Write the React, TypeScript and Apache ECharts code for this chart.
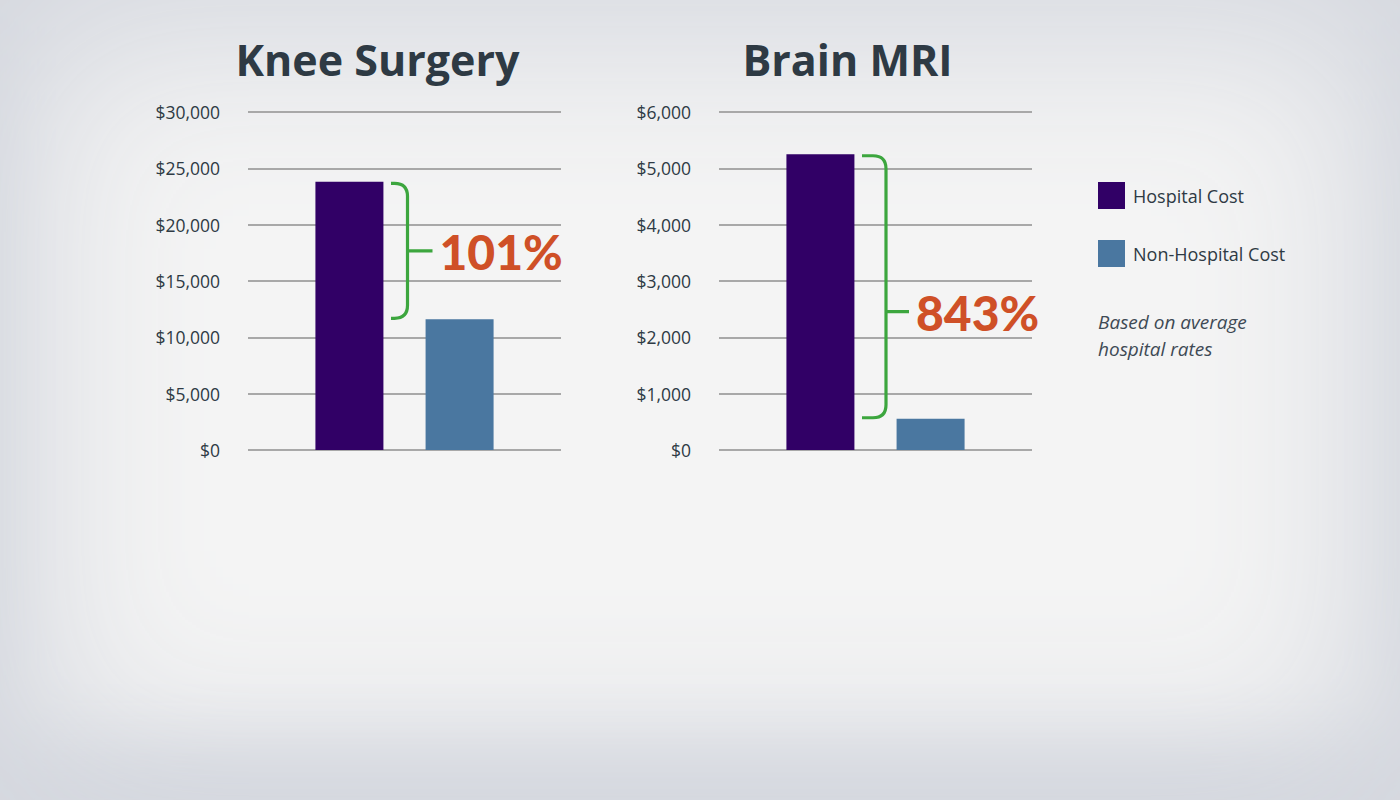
import React, { useEffect, useRef } from "react";
import * as echarts from "echarts";

const categories = ["Knee Surgery", "Brain MRI"];
const seriesNames = ["Hospital Cost", "Non-Hospital Cost"];
const hospitalCost = [23800, 5250];
const nonHospitalCost = [11600, 555];
const percentLabels = ["101%", "843%"];
const axisMax = [30000, 6000];
const axisInterval = [5000, 1000];
const noteLines = ["Based on average", "hospital rates"];

const PURPLE = "#310066";
const BLUE = "#4a77a0";
const GREEN = "#3ca63e";
const ORANGE = "#cf5027";
const DARK = "#2e3a44";
const FONT = "Lato, 'Open Sans', sans-serif";
const FONT2 = "'Open Sans', Lato, sans-serif";

const grids = [
  { left: 248, top: 112, width: 313, height: 338 },
  { left: 719, top: 112, width: 313, height: 338 },
];
const titleX = [377.5, 847.5];
const bracketGeom = [
  { hook: -13.5, vert: 3, tick: 25, frac: 0.5 },
  { hook: -13.5, vert: 10.5, tick: 23, frac: 0.595 },
];

export default function App() {
  const ref = useRef<HTMLDivElement>(null);
  useEffect(() => {
    if (!ref.current) return;
    const chart = echarts.init(ref.current, null, { renderer: "svg" });

    const series: any[] = [];
    categories.forEach((cat, i) => {
      series.push({
        name: seriesNames[0],
        type: "bar",
        xAxisIndex: i,
        yAxisIndex: i,
        barWidth: 68,
        barGap: "62%",
        itemStyle: { color: PURPLE },
        data: [hospitalCost[i]],
      });
      series.push({
        name: seriesNames[1],
        type: "bar",
        xAxisIndex: i,
        yAxisIndex: i,
        barWidth: 68,
        barGap: "62%",
        itemStyle: { color: BLUE },
        data: [nonHospitalCost[i]],
      });
      const g = bracketGeom[i];
      series.push({
        name: "bracket" + i,
        type: "custom",
        xAxisIndex: i,
        yAxisIndex: i,
        z: 5,
        clip: false,
        encode: { x: 0, y: [1, 2] },
        data: [[0, hospitalCost[i], nonHospitalCost[i]]],
        renderItem: (params: any, api: any) => {
          const xv = api.value(0);
          const p1 = api.coord([xv, api.value(1)]);
          const p2 = api.coord([xv, api.value(2)]);
          const cx = p1[0];
          const top = p1[1] + 1.5;
          const bot = p2[1] - 1;
          const hx = cx + g.hook;
          const vx = cx + g.vert;
          const r = Math.min(13, vx - hx);
          const mid = top + (bot - top) * g.frac;
          const tx = vx + g.tick;
          const d =
            `M ${hx} ${top} L ${vx - r} ${top} Q ${vx} ${top} ${vx} ${top + r} ` +
            `L ${vx} ${bot - r} Q ${vx} ${bot} ${vx - r} ${bot} L ${hx} ${bot} ` +
            `M ${vx} ${mid} L ${tx} ${mid}`;
          return {
            type: "group",
            children: [
              {
                type: "path",
                shape: { pathData: d },
                style: { stroke: GREEN, fill: "none", lineWidth: 3.2 },
              },
              {
                type: "text",
                x: tx + 7,
                y: mid + 1,
                style: {
                  text: percentLabels[i],
                  fontSize: 48,
                  fontWeight: 900,
                  fontFamily: FONT,
                  fill: ORANGE,
                  align: "left",
                  verticalAlign: "middle",
                },
              },
            ],
          };
        },
      });
    });

    chart.setOption({
      animation: false,
      backgroundColor: "transparent",
      grid: grids.map((g) => ({ ...g, containLabel: false })),
      xAxis: categories.map((c, i) => ({
        type: "category",
        gridIndex: i,
        data: [c],
        axisLine: { show: false },
        axisTick: { show: false },
        axisLabel: { show: false },
      })),
      yAxis: categories.map((c, i) => ({
        type: "value",
        gridIndex: i,
        min: 0,
        max: axisMax[i],
        interval: axisInterval[i],
        axisLine: { show: false },
        axisTick: { show: false },
        axisLabel: {
          margin: 28,
          color: DARK,
          fontSize: 17.5,
          fontFamily: FONT2,
          formatter: (v: number) => "$" + v.toLocaleString("en-US"),
        },
        splitLine: { lineStyle: { color: "#a8a8a8", width: 2 } },
      })),
      legend: {
        data: seriesNames,
        orient: "vertical",
        left: 1098,
        top: 182,
        padding: 0,
        itemWidth: 27,
        itemHeight: 27,
        itemGap: 31,
        icon: "rect",
        selectedMode: false,
        textStyle: {
          color: DARK,
          fontSize: 18,
          fontFamily: FONT2,
          padding: [0, 0, 0, 3],
        },
      },
      graphic: [
        ...categories.map((c, i) => ({
          type: "text",
          x: titleX[i],
          y: 59,
          style: {
            text: c,
            fontSize: 43,
            fontWeight: 700,
            fontFamily: FONT2,
            fill: DARK,
            align: "center",
            verticalAlign: "middle",
          },
        })),
        ...noteLines.map((line, k) => ({
          type: "text",
          x: 1098,
          y: 322 + k * 27,
          style: {
            text: line,
            fontSize: 19,
            fontStyle: "italic",
            fontFamily: FONT2,
            fill: "#3e4a55",
            align: "left",
            verticalAlign: "middle",
          },
        })),
      ],
      series,
    });
    return () => chart.dispose();
  }, []);

  return (
    <div
      style={{
        position: "fixed",
        left: 0,
        top: 0,
        width: 1400,
        height: 800,
        background: "#f4f4f4",
        boxShadow:
          "inset 0 0 170px 45px #d5d8df, inset 0 -60px 70px -10px #d6d9e0",
      }}
    >
      <div ref={ref} style={{ width: 1400, height: 800 }} />
    </div>
  );
}
